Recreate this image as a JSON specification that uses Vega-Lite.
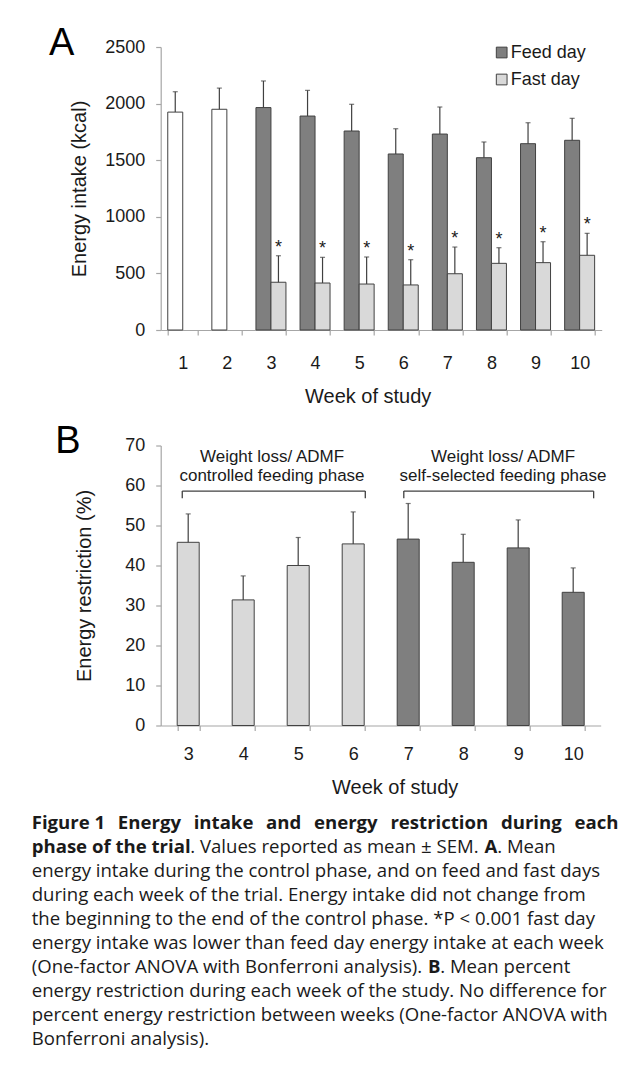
{
  "$schema": "https://vega.github.io/schema/vega-lite/v6.json",
  "background": "white",
  "padding": {"left": 31.7, "top": 25, "right": 0, "bottom": 0},
  "spacing": 16.5,
  "resolve": {"scale": {"fill": "independent"}, "legend": {"fill": "independent"}},
  "config": {
    "font": "Liberation Sans",
    "view": {"stroke": null},
    "axis": {
      "domainColor": "#a6a6a6", "tickColor": "#a6a6a6", "domainWidth": 1.2, "tickWidth": 1.2,
      "labelColor": "#1a1a1a", "titleColor": "#1a1a1a", "labelFontSize": 18, "titleFontSize": 20,
      "titleFontWeight": "normal", "grid": false, "tickSize": 5, "labelOverlap": false,
      "labelFont": "Liberation Sans", "titleFont": "Liberation Sans"
    },
    "title": {"font": "Liberation Sans", "fontSize": 38, "fontWeight": "normal", "anchor": "start", "frame": "group", "color": "#000000", "baseline": "alphabetic"}
  },
  "vconcat": [
    {
      "width": 441,
      "height": 283,
      "title": {"text": "A", "dx": -111.7, "offset": -25},
      "data": {"values": [
        {"week": 1, "phase": "Control", "day": "Feed day", "kcal": 1925, "upper": 2105},
        {"week": 2, "phase": "Control", "day": "Feed day", "kcal": 1950, "upper": 2137},
        {"week": 3, "phase": "Weight loss", "day": "Feed day", "kcal": 1965, "upper": 2200},
        {"week": 3, "phase": "Weight loss", "day": "Fast day", "kcal": 422, "upper": 656},
        {"week": 4, "phase": "Weight loss", "day": "Feed day", "kcal": 1890, "upper": 2117},
        {"week": 4, "phase": "Weight loss", "day": "Fast day", "kcal": 415, "upper": 642},
        {"week": 5, "phase": "Weight loss", "day": "Feed day", "kcal": 1758, "upper": 1994},
        {"week": 5, "phase": "Weight loss", "day": "Fast day", "kcal": 406, "upper": 645},
        {"week": 6, "phase": "Weight loss", "day": "Feed day", "kcal": 1555, "upper": 1778},
        {"week": 6, "phase": "Weight loss", "day": "Fast day", "kcal": 398, "upper": 621},
        {"week": 7, "phase": "Weight loss", "day": "Feed day", "kcal": 1731, "upper": 1970},
        {"week": 7, "phase": "Weight loss", "day": "Fast day", "kcal": 497, "upper": 733},
        {"week": 8, "phase": "Weight loss", "day": "Feed day", "kcal": 1522, "upper": 1661},
        {"week": 8, "phase": "Weight loss", "day": "Fast day", "kcal": 589, "upper": 727},
        {"week": 9, "phase": "Weight loss", "day": "Feed day", "kcal": 1646, "upper": 1831},
        {"week": 9, "phase": "Weight loss", "day": "Fast day", "kcal": 595, "upper": 780},
        {"week": 10, "phase": "Weight loss", "day": "Feed day", "kcal": 1676, "upper": 1870},
        {"week": 10, "phase": "Weight loss", "day": "Fast day", "kcal": 660, "upper": 854}
      ]},
      "encoding": {
        "x": {"field": "week", "type": "ordinal",
          "scale": {"paddingInner": 0.32, "paddingOuter": 0.16},
          "axis": {"title": "Week of study", "labelAngle": 0, "tickBand": "extent", "labelPadding": 19,
                   "titleX": 207, "titleY": 66, "titleBaseline": "middle", "titleAlign": "center"}},
        "xOffset": {"field": "day", "type": "nominal", "scale": {"domain": ["Feed day", "Fast day"], "paddingInner": 0}}
      },
      "layer": [
        {
          "mark": {"type": "bar", "stroke": "#404040", "strokeWidth": 1},
          "encoding": {
            "y": {"field": "kcal", "type": "quantitative", "scale": {"domain": [0, 2500], "nice": false},
              "axis": {"title": "Energy intake (kcal)", "values": [0, 500, 1000, 1500, 2000, 2500], "format": "d", "labelPadding": 11,
                       "titleX": -81, "titleBaseline": "middle"}},
            "fill": {
              "condition": {"test": "datum.phase === 'Control'", "value": "white"},
              "field": "day", "type": "nominal",
              "scale": {"domain": ["Feed day", "Fast day"], "range": ["#7f7f7f", "#d9d9d9"]},
              "legend": {"orient": "none", "legendX": 332, "legendY": -3.5, "title": null, "symbolType": "square",
                         "symbolSize": 115, "symbolStrokeColor": "#404040", "symbolStrokeWidth": 1,
                         "labelFontSize": 18, "labelColor": "#1a1a1a", "labelOffset": 0, "rowPadding": 9, "padding": 0}
            }
          }
        },
        {
          "mark": {"type": "rule", "color": "#404040", "strokeWidth": 1.2},
          "encoding": {
            "y": {"field": "kcal", "type": "quantitative", "scale": {"domain": [0, 2500], "nice": false},
              "axis": {"title": "Energy intake (kcal)", "values": [0, 500, 1000, 1500, 2000, 2500], "format": "d", "labelPadding": 11,
                       "titleX": -81, "titleBaseline": "middle"}},
            "y2": {"field": "upper"}
          }
        },
        {
          "mark": {"type": "tick", "color": "#404040", "thickness": 1.2, "size": 5},
          "encoding": {"y": {"field": "upper", "type": "quantitative", "scale": {"domain": [0, 2500], "nice": false},
              "axis": {"title": "Energy intake (kcal)", "values": [0, 500, 1000, 1500, 2000, 2500], "format": "d", "labelPadding": 11,
                       "titleX": -81, "titleBaseline": "middle"}}}
        },
        {
          "transform": [{"filter": "datum.day === 'Fast day'"}],
          "mark": {"type": "text", "text": "*", "fontSize": 18, "baseline": "alphabetic", "dy": -3, "color": "#1a1a1a"},
          "encoding": {"y": {"field": "upper", "type": "quantitative", "scale": {"domain": [0, 2500], "nice": false},
              "axis": {"title": "Energy intake (kcal)", "values": [0, 500, 1000, 1500, 2000, 2500], "format": "d", "labelPadding": 11,
                       "titleX": -81, "titleBaseline": "middle"}}}
        }
      ]
    },
    {
      "width": 440,
      "height": 280,
      "title": {"text": "B", "dx": -105.5, "offset": -24},
      "layer": [
        {
          "data": {"values": [
            {"week": 3, "phase": "controlled", "pct": 45.8, "upper": 52.9},
            {"week": 4, "phase": "controlled", "pct": 31.4, "upper": 37.4},
            {"week": 5, "phase": "controlled", "pct": 40.0, "upper": 47.0},
            {"week": 6, "phase": "controlled", "pct": 45.4, "upper": 53.4},
            {"week": 7, "phase": "self-selected", "pct": 46.6, "upper": 55.5},
            {"week": 8, "phase": "self-selected", "pct": 40.8, "upper": 47.8},
            {"week": 9, "phase": "self-selected", "pct": 44.4, "upper": 51.4},
            {"week": 10, "phase": "self-selected", "pct": 33.3, "upper": 39.4}
          ]},
          "encoding": {
            "x": {"field": "week", "type": "ordinal",
              "scale": {"paddingInner": 0.6, "paddingOuter": 0.3},
              "axis": {"title": "Week of study", "labelAngle": 0, "tickBand": "extent", "labelPadding": 15,
                       "titleX": 234, "titleY": 62, "titleBaseline": "middle", "titleAlign": "center"}}
          },
          "layer": [
            {
              "mark": {"type": "bar", "stroke": "#404040", "strokeWidth": 1},
              "encoding": {
                "y": {"field": "pct", "type": "quantitative", "scale": {"domain": [0, 70], "nice": false},
                  "axis": {"title": "Energy restriction (%)", "values": [0, 10, 20, 30, 40, 50, 60, 70], "labelPadding": 11,
                           "titleX": -76, "titleBaseline": "middle"}},
                "fill": {"field": "phase", "type": "nominal",
                  "scale": {"domain": ["controlled", "self-selected"], "range": ["#d9d9d9", "#7f7f7f"]}, "legend": null}
              }
            },
            {
              "mark": {"type": "rule", "color": "#404040", "strokeWidth": 1.2},
              "encoding": {
                "y": {"field": "pct", "type": "quantitative", "scale": {"domain": [0, 70], "nice": false},
                  "axis": {"title": "Energy restriction (%)", "values": [0, 10, 20, 30, 40, 50, 60, 70], "labelPadding": 11,
                           "titleX": -76, "titleBaseline": "middle"}},
                "y2": {"field": "upper"}
              }
            },
            {
              "mark": {"type": "tick", "color": "#404040", "thickness": 1.2, "size": 5},
              "encoding": {"y": {"field": "upper", "type": "quantitative", "scale": {"domain": [0, 70], "nice": false},
                  "axis": {"title": "Energy restriction (%)", "values": [0, 10, 20, 30, 40, 50, 60, 70], "labelPadding": 11,
                           "titleX": -76, "titleBaseline": "middle"}}}
            }
          ]
        },
        {
          "data": {"values": [
            {"phase": "controlled", "first": 3, "last": 6, "label": ["Weight loss/ ADMF", "controlled feeding phase"]},
            {"phase": "self-selected", "first": 7, "last": 10, "label": ["Weight loss/ ADMF", "self-selected feeding phase"]}
          ]},
          "encoding": {
            "y": {"datum": 58.6, "type": "quantitative", "scale": {"domain": [0, 70], "nice": false},
              "axis": {"title": "Energy restriction (%)", "values": [0, 10, 20, 30, 40, 50, 60, 70], "labelPadding": 11,
                       "titleX": -76, "titleBaseline": "middle"}}
          },
          "layer": [
            {
              "transform": [{"filter": "datum.phase === 'controlled'"}],
              "mark": {"type": "rule", "color": "#404040", "strokeWidth": 1.3},
              "encoding": {
                "x": {"field": "first", "type": "ordinal", "bandPosition": 0.23},
                "x2": {"field": "last", "bandPosition": 1.05}
              }
            },
            {
              "transform": [{"filter": "datum.phase === 'self-selected'"}],
              "mark": {"type": "rule", "color": "#404040", "strokeWidth": 1.3},
              "encoding": {
                "x": {"field": "first", "type": "ordinal", "bandPosition": 0.3},
                "x2": {"field": "last", "bandPosition": 1.43}
              }
            },
            {
              "transform": [{"filter": "datum.phase === 'controlled'"}],
              "mark": {"type": "rule", "color": "#404040", "strokeWidth": 1.3},
              "encoding": {"x": {"field": "first", "type": "ordinal", "bandPosition": 0.23}, "y2": {"datum": 56.8}}
            },
            {
              "transform": [{"filter": "datum.phase === 'controlled'"}],
              "mark": {"type": "rule", "color": "#404040", "strokeWidth": 1.3},
              "encoding": {"x": {"field": "last", "type": "ordinal", "bandPosition": 1.05}, "y2": {"datum": 56.8}}
            },
            {
              "transform": [{"filter": "datum.phase === 'self-selected'"}],
              "mark": {"type": "rule", "color": "#404040", "strokeWidth": 1.3},
              "encoding": {"x": {"field": "first", "type": "ordinal", "bandPosition": 0.3}, "y2": {"datum": 56.8}}
            },
            {
              "transform": [{"filter": "datum.phase === 'self-selected'"}],
              "mark": {"type": "rule", "color": "#404040", "strokeWidth": 1.3},
              "encoding": {"x": {"field": "last", "type": "ordinal", "bandPosition": 1.43}, "y2": {"datum": 56.8}}
            },
            {
              "transform": [{"filter": "datum.phase === 'controlled'"}],
              "mark": {"type": "text", "fontSize": 17, "baseline": "alphabetic", "align": "center", "lineHeight": 18.5, "color": "#1a1a1a"},
              "encoding": {
                "x": {"field": "first", "type": "ordinal", "bandPosition": 4.31},
                "y": {"datum": 65.8, "type": "quantitative"},
                "text": {"field": "label"}
              }
            },
            {
              "transform": [{"filter": "datum.phase === 'self-selected'"}],
              "mark": {"type": "text", "fontSize": 17, "baseline": "alphabetic", "align": "center", "lineHeight": 18.5, "color": "#1a1a1a"},
              "encoding": {
                "x": {"field": "first", "type": "ordinal", "bandPosition": 4.81},
                "y": {"datum": 65.8, "type": "quantitative"},
                "text": {"field": "label"}
              }
            }
          ]
        }
      ]
    },
    {
      "width": 441,
      "height": 216,
      "data": {"values": [
        {"line": 1, "part": "bold0", "text": "Figure 1 \u00a0\u2009Energy \u00a0\u2009intake \u00a0\u2009and \u00a0\u2009energy \u00a0\u2009restriction \u00a0\u2009during \u00a0\u2009each"},
        {"line": 2, "part": "bold0", "text": "phase of the trial"},
        {"line": 2, "part": "l2b", "text": ". Values reported as mean ± SEM. "},
        {"line": 2, "part": "l2c", "text": "A"},
        {"line": 2, "part": "l2d", "text": ". Mean"},
        {"line": 3, "part": "norm0", "text": "energy intake during the control phase, and on feed and fast days"},
        {"line": 4, "part": "norm0", "text": "during each week of the trial. Energy intake did not change from"},
        {"line": 5, "part": "norm0", "text": "the beginning to the end of the control phase. *P < 0.001 fast day"},
        {"line": 6, "part": "norm0", "text": "energy intake was lower than feed day energy intake at each week"},
        {"line": 7, "part": "norm0", "text": "(One-factor ANOVA with Bonferroni analysis). "},
        {"line": 7, "part": "l7b", "text": "B"},
        {"line": 7, "part": "l7c", "text": ". Mean percent"},
        {"line": 8, "part": "norm0", "text": "energy restriction during each week of the study. No difference for"},
        {"line": 9, "part": "norm0", "text": "percent energy restriction between weeks (One-factor ANOVA with"},
        {"line": 10, "part": "norm0", "text": "Bonferroni analysis)."}
      ]},
      "encoding": {
        "y": {"field": "line", "type": "ordinal", "scale": {"type": "point", "padding": 0}, "axis": null},
        "x": {"value": 0},
        "text": {"field": "text"}
      },
      "layer": [
        {"transform": [{"filter": "datum.part === 'norm0'"}],
         "mark": {"type": "text", "font": "Open Sans", "fontSize": 18.6, "align": "left", "baseline": "alphabetic", "dx": -129, "color": "#1a1a1a"}},
        {"transform": [{"filter": "datum.part === 'bold0'"}],
         "mark": {"type": "text", "font": "Open Sans", "fontSize": 18.6, "fontWeight": "bold", "align": "left", "baseline": "alphabetic", "dx": -129, "color": "#1a1a1a"}},
        {"transform": [{"filter": "datum.part === 'l2b'"}],
         "mark": {"type": "text", "font": "Open Sans", "fontSize": 18.6, "align": "left", "baseline": "alphabetic", "dx": 29.5, "color": "#1a1a1a"}},
        {"transform": [{"filter": "datum.part === 'l2c'"}],
         "mark": {"type": "text", "font": "Open Sans", "fontSize": 18.6, "fontWeight": "bold", "align": "left", "baseline": "alphabetic", "dx": 323.7, "color": "#1a1a1a"}},
        {"transform": [{"filter": "datum.part === 'l2d'"}],
         "mark": {"type": "text", "font": "Open Sans", "fontSize": 18.6, "align": "left", "baseline": "alphabetic", "dx": 336.5, "color": "#1a1a1a"}},
        {"transform": [{"filter": "datum.part === 'l7b'"}],
         "mark": {"type": "text", "font": "Open Sans", "fontSize": 18.6, "fontWeight": "bold", "align": "left", "baseline": "alphabetic", "dx": 267.2, "color": "#1a1a1a"}},
        {"transform": [{"filter": "datum.part === 'l7c'"}],
         "mark": {"type": "text", "font": "Open Sans", "fontSize": 18.6, "align": "left", "baseline": "alphabetic", "dx": 279.5, "color": "#1a1a1a"}}
      ]
    }
  ]
}
